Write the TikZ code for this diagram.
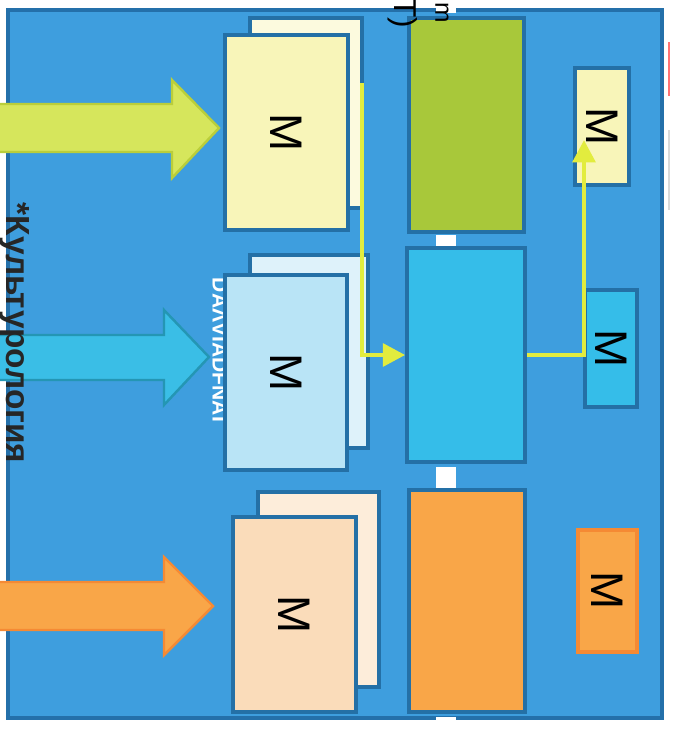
\documentclass[tikz,border=0pt]{standalone}
\usepackage{fontspec}
\setmainfont{Liberation Sans}
\usetikzlibrary{arrows.meta}
\definecolor{framefill}{RGB}{62,158,222}
\definecolor{frameline}{RGB}{36,112,170}
\definecolor{boxline}{RGB}{36,112,166}
\definecolor{lime}{RGB}{168,200,58}
\definecolor{cyanbox}{RGB}{53,189,233}
\definecolor{orangebox}{RGB}{249,166,72}
\definecolor{orangeline}{RGB}{245,138,52}
\definecolor{yellowfront}{RGB}{248,245,185}
\definecolor{yellowback}{RGB}{252,250,222}
\definecolor{bluefront}{RGB}{185,228,246}
\definecolor{blueback}{RGB}{222,242,250}
\definecolor{peachfront}{RGB}{250,220,186}
\definecolor{peachback}{RGB}{253,237,218}
\definecolor{arrowgreen}{RGB}{214,230,92}
\definecolor{arrowgreenline}{RGB}{186,206,58}
\definecolor{arrowcyan}{RGB}{58,190,230}
\definecolor{arrowcyanline}{RGB}{36,150,180}
\definecolor{flow}{RGB}{226,236,62}
\newcommand{\sideM}{\rotatebox{-90}{\fontsize{26}{30}\selectfont М}}
\begin{document}
\begin{tikzpicture}[x=0.02cm,y=-0.02cm,
  box/.style={draw=boxline,line width=2pt,inner sep=0pt},
  flowline/.style={draw=flow,line width=2.8pt,-{Triangle[length=0.45cm,width=0.45cm]}},
  gap/.style={fill=white,draw=none}]
\useasboundingbox (0,0) rectangle (676,730);
% frame
\draw[fill=framefill,draw=frameline,line width=2pt] (8,10) rectangle (662,718);
\fill[gap] (436,0) rectangle (456,13);
\fill[gap] (436,235) rectangle (456,247);
\fill[gap] (436,467) rectangle (456,488);
\fill[gap] (436,717) rectangle (456,730);
% arrows in
\draw[fill=arrowgreen,draw=arrowgreenline,line width=1.4pt] (-5,104) -- (172,104) -- (172,80) -- (219,128) -- (172,178) -- (172,152) -- (-5,152) -- cycle;
\draw[fill=arrowcyan,draw=arrowcyanline,line width=1.4pt] (-5,335) -- (164,335) -- (164,310) -- (209,357) -- (164,405) -- (164,380) -- (-5,380) -- cycle;
\draw[fill=orangebox,draw=orangeline,line width=1.4pt] (-5,582) -- (164,582) -- (164,557) -- (213,606) -- (164,655) -- (164,630) -- (-5,630) -- cycle;
% back sheets
\node[box,fill=yellowback,minimum width=2.24cm,minimum height=3.8cm] (w1) at (306,113) {};
\node[box,fill=blueback,minimum width=2.36cm,minimum height=3.86cm] (w2) at (309,351.5) {};
\node[box,fill=peachback,minimum width=2.42cm,minimum height=3.9cm] (w3) at (318.5,589.5) {};
\node[rotate=-90,text=white,font=\bfseries\fontsize{12}{14}\selectfont] (t1) at (220,350) {DAΛVIADFNAI};
% front sheets
\node[box,fill=yellowfront,minimum width=2.46cm,minimum height=3.9cm] (v1) at (286.5,132.5) {\sideM};
\node[box,fill=bluefront,minimum width=2.44cm,minimum height=3.9cm] (v2) at (286,372.5) {\sideM};
\node[box,fill=peachfront,minimum width=2.46cm,minimum height=3.9cm] (v3) at (294.5,614.5) {\sideM};
% middle column
\node[box,fill=lime,minimum width=2.3cm,minimum height=4.28cm] (c1) at (466.5,125) {};
\node[box,fill=cyanbox,minimum width=2.36cm,minimum height=4.28cm] (c2) at (466,355) {};
\node[box,fill=orangebox,minimum width=2.32cm,minimum height=4.44cm] (c3) at (467,601) {};
% right column
\node[box,fill=yellowfront,minimum width=1.08cm,minimum height=2.34cm] (r1) at (602,126.5) {\sideM};
\node[box,fill=cyanbox,minimum width=1.04cm,minimum height=2.34cm] (r2) at (611,348.5) {\sideM};
\node[box,draw=orangeline,fill=orangebox,minimum width=1.18cm,minimum height=2.44cm] (r3) at (607.5,591) {\sideM};
% flow
\coordinate (s1) at (362,83);
\coordinate (t2) at (584,140);
\draw[flowline] (s1) |- (c2.west);
\draw[flowline] (c2.east) -| (t2);
% side text
\node[rotate=-90,font=\bfseries\fontsize{19}{21}\selectfont,text=black!85] (k1) at (15,333) {*Культурология};
% pencil marks
\node[rotate=-90,font=\fontsize{18}{20}\selectfont] (h1) at (403,13) {T)};
\node[rotate=-90,font=\fontsize{14}{16}\selectfont,inner sep=1pt] (h2) at (442,13) {m};
\draw[red!55,line width=1.2pt] (669,42) -- (669,96);
\draw[black!15,line width=0.8pt] (669,130) -- (669,210);
\end{tikzpicture}
\end{document}
